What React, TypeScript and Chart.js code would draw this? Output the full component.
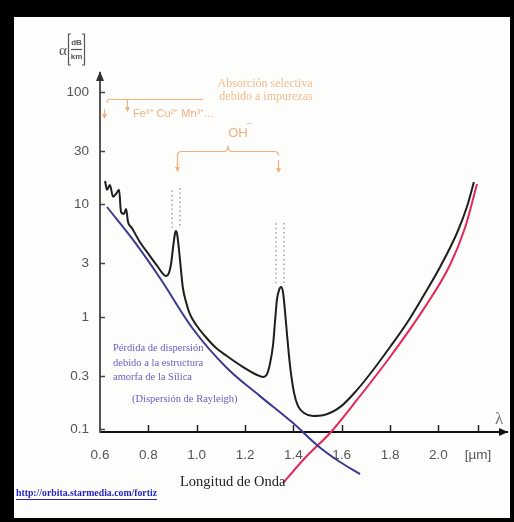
import React, { useEffect, useRef } from "react";
import { Chart, registerables } from "chart.js";

Chart.register(...registerables);

// Total attenuation curve (black)
const lossLambda = [0.621, 0.629, 0.641, 0.654, 0.666, 0.679, 0.687, 0.699, 0.708, 0.716, 0.732, 0.765, 0.807, 0.840, 0.861, 0.873, 0.885, 0.894, 0.902, 0.910, 0.914, 0.919, 0.927, 0.935, 0.943, 0.956, 0.972, 1.001, 1.034, 1.076, 1.125, 1.192, 1.250, 1.274, 1.291, 1.303, 1.316, 1.324, 1.332, 1.341, 1.349, 1.357, 1.365, 1.374, 1.386, 1.403, 1.419, 1.444, 1.481, 1.523, 1.593, 1.663, 1.730, 1.800, 1.870, 1.936, 2.007, 2.077, 2.118, 2.147];
const lossValue = [16.2, 13.5, 14.9, 11.7, 12.4, 13.5, 8.58, 8.23, 9.12, 6.99, 6.18, 4.64, 3.48, 2.78, 2.41, 2.31, 2.46, 2.96, 4.10, 5.47, 5.81, 5.47, 3.94, 2.62, 1.81, 1.36, 1.06, 0.832, 0.678, 0.541, 0.450, 0.359, 0.305, 0.293, 0.311, 0.382, 0.564, 0.903, 1.42, 1.74, 1.85, 1.67, 1.15, 0.692, 0.374, 0.211, 0.162, 0.140, 0.132, 0.134, 0.158, 0.224, 0.338, 0.541, 0.884, 1.51, 2.78, 5.58, 9.50, 15.8];

// Rayleigh scattering (blue)
const rayLambda = [0.629, 0.737, 0.848, 0.985, 1.125, 1.262, 1.399, 1.502, 1.593, 1.676];
const rayValue = [9.50, 4.84, 2.22, 0.782, 0.352, 0.198, 0.114, 0.0714, 0.0514, 0.0402];

// Infrared absorption (red)
const irLambda = [1.357, 1.448, 1.552, 1.663, 1.800, 1.936, 2.048, 2.110, 2.160];
const irValue = [0.0334, 0.0558, 0.0931, 0.183, 0.441, 1.15, 2.90, 6.18, 15.2];

// Dotted OH peak guides (null = gap)
const guideLambda = [0.898, 0.898, 0.915, 0.931, 0.931, 1.10, 1.328, 1.328, 1.345, 1.361, 1.361];
const guideValue = [6.18, 14.0, null, 14.0, 6.18, null, 2.00, 6.85, null, 6.85, 2.00];

// Axis ticks
const xTickValues = [0.6, 0.8, 1.0, 1.2, 1.4, 1.6, 1.8, 2.0, 2.164];
const xTickLabels = ["0.6", "0.8", "1.0", "1.2", "1.4", "1.6", "1.8", "2.0", "[\u00b5m]"];
const yTickValues = [0.1, 0.3, 1, 3, 10, 30, 100];
const yTickLabels = ["0.1", "0.3", "1", "3", "10", "30", "100"];

const NARROW = '"Liberation Sans Narrow", "Liberation Sans", Arial, sans-serif';
const SANS = '"Liberation Sans", Arial, sans-serif';
const SERIF = '"Liberation Serif", "Times New Roman", serif';

function toPts(xs: number[], ys: (number | null)[]) {
  return xs.map((x, i) => ({ x, y: ys[i] }));
}

function line(ctx: CanvasRenderingContext2D, x1: number, y1: number, x2: number, y2: number) {
  ctx.beginPath();
  ctx.moveTo(x1, y1);
  ctx.lineTo(x2, y2);
  ctx.stroke();
}

function arrowDown(ctx: CanvasRenderingContext2D, x: number, y1: number, y2: number) {
  line(ctx, x, y1, x, y2);
  ctx.beginPath();
  ctx.moveTo(x, y2 + 1);
  ctx.lineTo(x - 2.5, y2 - 4);
  ctx.lineTo(x + 2.5, y2 - 4);
  ctx.closePath();
  ctx.fill();
}

const decorPlugin = {
  id: "decor",
  afterDraw(chart: any) {
    const ctx: CanvasRenderingContext2D = chart.ctx;
    const xs = chart.scales.x;
    const ys = chart.scales.y;
    const { left, right, top, bottom } = chart.chartArea;
    ctx.save();

    // tick marks (inside)
    ctx.strokeStyle = "#222";
    ctx.lineWidth = 1.5;
    xTickValues.forEach((v, i) => {
      if (i === 0) return;
      const px = Math.round(xs.getPixelForValue(v)) + 0.5;
      line(ctx, px, bottom, px, bottom - 7);
    });
    ctx.strokeStyle = "#444";
    yTickValues.forEach((v) => {
      const py = Math.round(ys.getPixelForValue(v)) + 0.5;
      line(ctx, left, py, left + 5, py);
    });

    // arrowheads
    ctx.fillStyle = "#111";
    ctx.beginPath();
    ctx.moveTo(right + 1, bottom);
    ctx.lineTo(right - 8, bottom - 4);
    ctx.lineTo(right - 8, bottom + 4);
    ctx.closePath();
    ctx.fill();
    ctx.fillStyle = "#333";
    ctx.beginPath();
    ctx.moveTo(left, top - 2);
    ctx.lineTo(left - 4, top + 8);
    ctx.lineTo(left + 4, top + 8);
    ctx.closePath();
    ctx.fill();

    // y axis title: alpha [dB/km]
    ctx.fillStyle = "#555";
    ctx.strokeStyle = "#555";
    ctx.textAlign = "center";
    ctx.textBaseline = "middle";
    ctx.font = `15px ${SERIF}`;
    ctx.fillText("\u03b1", 63, 51);
    ctx.lineWidth = 1.2;
    ctx.beginPath();
    ctx.moveTo(71, 34); ctx.lineTo(68.5, 34); ctx.lineTo(68.5, 65); ctx.lineTo(71, 65);
    ctx.stroke();
    ctx.beginPath();
    ctx.moveTo(82, 34); ctx.lineTo(84.5, 34); ctx.lineTo(84.5, 65); ctx.lineTo(82, 65);
    ctx.stroke();
    ctx.font = `bold 8px ${SANS}`;
    ctx.fillText("dB", 76.5, 43);
    ctx.fillText("km", 76.5, 57);
    line(ctx, 71, 49.5, 82, 49.5);

    // lambda symbol at axis end
    ctx.fillStyle = "#777";
    ctx.font = `17px ${SERIF}`;
    ctx.fillText("\u03bb", 499, 420);

    // orange annotations
    const orange = "#eeb183";
    ctx.fillStyle = "#f0bc90";
    ctx.font = `12px ${SERIF}`;
    ctx.fillText("Absorci\u00f3n selectiva", 265, 84);
    ctx.fillText("debido a impurezas", 266, 97);
    ctx.strokeStyle = orange;
    ctx.fillStyle = orange;
    ctx.lineWidth = 1.2;
    ctx.beginPath();
    ctx.moveTo(203, 99.5);
    ctx.lineTo(109, 99.5);
    ctx.quadraticCurveTo(107, 99.5, 107, 103);
    ctx.stroke();
    arrowDown(ctx, 127.5, 100, 111);
    arrowDown(ctx, 104.5, 109, 118);
    ctx.textAlign = "left";
    ctx.font = `11px ${SANS}`;
    ctx.fillText("Fe\u00b3\u207a Cu\u00b2\u207a Mn\u00b3\u207a...", 133, 114);
    ctx.textAlign = "center";
    ctx.font = `13px ${SANS}`;
    ctx.fillText("OH", 238, 133);
    ctx.font = `9px ${SANS}`;
    ctx.fillText("\u2013", 249, 124);
    // brace over OH peaks
    const bl = 177.5, br = 278.5, by = 151.5, bm = 228;
    ctx.beginPath();
    ctx.moveTo(bl, 166);
    ctx.lineTo(bl, 156);
    ctx.quadraticCurveTo(bl, by, bl + 4, by);
    ctx.lineTo(bm - 4, by);
    ctx.quadraticCurveTo(bm, by, bm, by - 6);
    ctx.quadraticCurveTo(bm, by, bm + 4, by);
    ctx.lineTo(br - 4, by);
    ctx.quadraticCurveTo(br, by, br, 156);
    ctx.stroke();
    arrowDown(ctx, bl, 160, 171);
    arrowDown(ctx, br, 160, 172);

    // blue annotation text
    ctx.fillStyle = "#6b60c2";
    ctx.textAlign = "left";
    ctx.font = `10.5px ${SERIF}`;
    ctx.fillText("P\u00e9rdida de dispersi\u00f3n", 113, 348);
    ctx.fillText("debido a la estructura", 113, 363);
    ctx.fillText("amorfa de la S\u00edlica", 113, 377);
    ctx.fillText("(Dispersi\u00f3n de Rayleigh)", 132, 399);

    // x axis title
    ctx.fillStyle = "#222";
    ctx.font = `14.5px ${SERIF}`;
    ctx.fillText("Longitud de Onda", 180, 482);

    // URL
    ctx.fillStyle = "#2626c8";
    ctx.strokeStyle = "#2626c8";
    ctx.font = `bold 10px ${SERIF}`;
    const url = "http://orbita.starmedia.com/fortiz";
    const w = ctx.measureText(url).width;
    ctx.save();
    ctx.translate(16, 493);
    ctx.scale(141 / w, 1);
    ctx.fillText(url, 0, 0);
    ctx.restore();
    ctx.lineWidth = 1;
    line(ctx, 16, 499.5, 157, 499.5);

    ctx.restore();
  },
};

export default function App() {
  const ref = useRef<HTMLCanvasElement>(null);
  useEffect(() => {
    const tickFont = { family: NARROW, size: 13.5 };
    const chart = new Chart(ref.current as HTMLCanvasElement, {
      type: "line",
      data: {
        datasets: [
          {
            data: toPts(guideLambda, guideValue) as any,
            borderColor: "#a0a0a0",
            borderWidth: 1.5,
            borderDash: [1.5, 3],
            pointRadius: 0,
            spanGaps: false,
            clip: false as any,
          },
          {
            data: toPts(rayLambda, rayValue) as any,
            borderColor: "#3b3a8f",
            borderWidth: 2,
            pointRadius: 0,
            cubicInterpolationMode: "monotone",
            clip: false as any,
          },
          {
            data: toPts(irLambda, irValue) as any,
            borderColor: "#e2285a",
            borderWidth: 2,
            pointRadius: 0,
            cubicInterpolationMode: "monotone",
            clip: false as any,
          },
          {
            data: toPts(lossLambda, lossValue) as any,
            borderColor: "#1e1e1e",
            borderWidth: 2,
            pointRadius: 0,
            cubicInterpolationMode: "monotone",
            clip: false as any,
          },
        ],
      },
      options: {
        responsive: false,
        animation: false,
        events: [],
        layout: { padding: { top: 73, right: 7, bottom: 0, left: 0 } },
        plugins: { legend: { display: false }, tooltip: { enabled: false } },
        scales: {
          x: {
            type: "linear",
            min: 0.6,
            max: 2.284,
            afterBuildTicks: (s: any) => {
              s.ticks = xTickValues.map((v) => ({ value: v }));
            },
            afterFit: (s: any) => {
              s.height = 90;
            },
            ticks: {
              autoSkip: false,
              maxRotation: 0,
              padding: 15,
              color: "#555",
              font: tickFont,
              callback: (_v: any, i: number) => xTickLabels[i],
            },
            grid: { display: false, drawTicks: false },
            border: { display: true, color: "#111", width: 2 },
          },
          y: {
            type: "logarithmic",
            min: 0.095,
            max: 147.5,
            afterBuildTicks: (s: any) => {
              s.ticks = yTickValues.map((v) => ({ value: v }));
            },
            afterFit: (s: any) => {
              s.width = 100;
            },
            ticks: {
              autoSkip: false,
              padding: 11,
              color: "#555",
              font: tickFont,
              callback: (_v: any, i: number) => yTickLabels[i],
            },
            grid: { display: false, drawTicks: false },
            border: { display: true, color: "#555", width: 2 },
          },
        },
      },
      plugins: [decorPlugin],
    });
    return () => chart.destroy();
  }, []);

  return (
    <div
      style={{
        position: "absolute",
        left: 0,
        top: 0,
        width: 514,
        height: 522,
        background: "#000",
        overflow: "hidden",
      }}
    >
      <div
        style={{
          position: "absolute",
          left: 14,
          top: 17,
          width: 496,
          height: 501,
          background: "#fdfdfb",
        }}
      />
      <canvas
        ref={ref}
        width={514}
        height={522}
        style={{ position: "absolute", left: 0, top: 0, width: 514, height: 522 }}
      />
    </div>
  );
}
